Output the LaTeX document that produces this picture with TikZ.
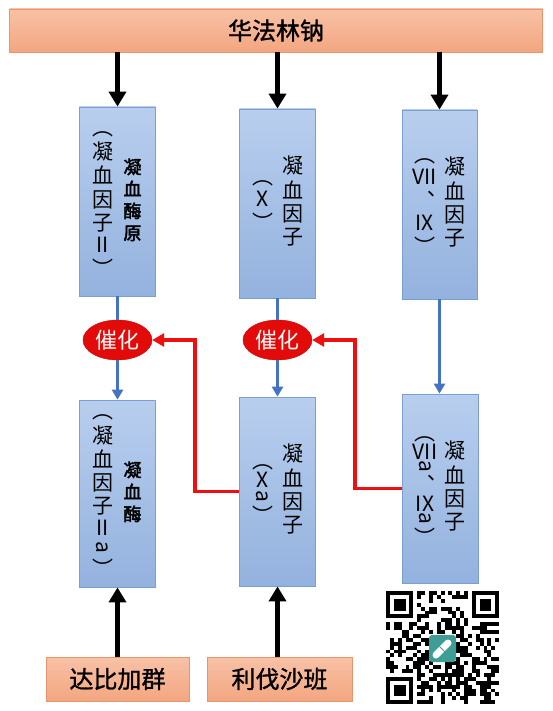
\documentclass[tikz,border=0pt]{standalone}
\usepackage{xcolor}
\definecolor{salmontop}{HTML}{F8C1A6}
\definecolor{salmonbot}{HTML}{F3A680}
\definecolor{salmonedge}{HTML}{E8956C}
\definecolor{steeltop}{HTML}{B8CEEE}
\definecolor{steelbot}{HTML}{93B2DE}
\definecolor{steeledge}{HTML}{7C9DCF}
\definecolor{royal}{HTML}{4472C4}
\definecolor{alarm}{HTML}{EE1010}
\definecolor{catred}{HTML}{E30A0A}
\definecolor{qrteal}{HTML}{3E9E95}
\usepackage{fontspec}
\newfontfamily\cjk{Noto Sans CJK SC}
\newfontfamily\cjkmed{Noto Sans CJK SC}[FakeBold=1.2]
\newfontfamily\cjkheavy{Noto Sans CJK SC}[FakeBold=2.5]
\usepackage{tikz}
\usetikzlibrary{arrows.meta, positioning, shapes.geometric, calc}

\newcommand{\vfont}{\cjk\fontsize{21}{22}\selectfont}
\newcommand{\vcol}[1]{\begin{tabular}{@{}c@{}}#1\end{tabular}}
\newcommand{\vheavy}[1]{{\cjkheavy\fontsize{18}{22}\selectfont\vcol{#1}}}
\newcommand{\vpair}[2]{\makebox[30pt]{\vcol{#1}}\makebox[30pt]{#2}}
\newcommand{\rota}{\rotatebox[origin=c]{-90}{a}}

\begin{document}
\begin{tikzpicture}[x=1pt, y=-1pt,
  drug/.style={draw=salmonedge, line width=0.8pt, top color=salmontop, bottom color=salmonbot, inner sep=0pt,
    font={\cjkmed\fontsize{24}{26}\selectfont}},
  factor/.style={draw=steeledge, line width=0.8pt, top color=steeltop, bottom color=steelbot,
    minimum width=76pt, minimum height=189pt, inner sep=0pt, font=\vfont},
  catal/.style={ellipse, fill=catred, draw=catred!85!black, minimum width=69pt, minimum height=40pt,
    inner sep=0pt, text=white, font={\cjk\fontsize{22}{24}\selectfont}},
  bigarrow/.style={line width=5pt, -{Triangle[length=15pt,width=17pt]}},
  blueline/.style={royal, line width=2.5pt},
  bluearrow/.style={blueline, -{Triangle[length=10pt,width=11pt]}},
  redarrow/.style={alarm, line width=3.2pt, -{Triangle[length=12pt,width=13pt]}}]
  \useasboundingbox[fill=white] (0,0) rectangle (552,711);

  % --- Warfarin ---
  \node[drug, minimum width=533pt, minimum height=43pt] (war) at (276,30.5) {华法林钠};

  % --- Upper factors ---
  \node[factor] (f2) at (117.5,201.5) {\vpair{︵\\凝\\血\\因\\子\\II\\︶}{\vheavy{凝\\血\\酶\\原}}};
  \node[factor] (f10) at (277.5,203.5) {\vpair{︵\\X\\︶}{\vcol{凝\\血\\因\\子}}};
  \node[factor, minimum width=75pt] (f79) at (439.5,204.5) {\vpair{︵\\VII\\︑\\IX\\︶}{\vcol{凝\\血\\因\\子}}};

  % --- Lower factors ---
  \node[factor, minimum height=187pt] (f2a) at (117.5,493.5) {\vpair{︵\\凝\\血\\因\\子\\II\\[-5pt]\rota\\︶}{\vheavy{凝\\血\\酶}}};
  \node[factor] (f10a) at (277.5,491.5) {\vpair{︵\\[-3pt]X\\[-7pt]\rota\\[-3pt]︶}{\vcol{凝\\血\\因\\子}}};
  \node[factor] (f79a) at (440,488.5) {\vpair{︵\\[-3pt]VII\\[-9pt]\rota\\[-4pt]︑\\[-3pt]IX\\[-9pt]\rota\\[-3pt]︶}{\vcol{凝\\血\\因\\子}}};

  % --- Catalysis ---
  \node[catal] (cat1) at (117.5,340) {催化};
  \node[catal] (cat2) at (277.5,340) {催化};

  % --- Anticoagulants ---
  \node[drug, minimum width=143pt, minimum height=44pt] (dab) at (117.5,679) {达比加群};
  \node[drug, minimum width=145pt, minimum height=44pt] (riv) at (279.5,679) {利伐沙班};

  % --- Arrows ---
  \foreach \f in {f2, f10, f79}
    \draw[bigarrow] (war.south -| \f.north) -- (\f.north);
  \draw[bigarrow] (dab.north -| f2a.south) -- (f2a.south);
  \draw[bigarrow] (riv.north -| f10a.south) -- (f10a.south);

  \draw[blueline] (f2.south) -- (cat1.north);
  \draw[bluearrow] (cat1.south) -- (f2a.north);
  \draw[blueline] (f10.south) -- (cat2.north);
  \draw[bluearrow] (cat2.south) -- (f10a.north);
  \draw[bluearrow] (f79.south) -- (f79.south |- f79a.north);

  \coordinate (redbend1) at (195,340);
  \coordinate (redbend2) at (355,340);
  \draw[redarrow] (f10a.west) -| (redbend1) -- (cat1.east);
  \draw[redarrow] (f79a.west) -| (redbend2) -- (cat2.east);

  % --- QR code ---
  \begin{scope}[shift={(386,591)}]
    \pgfmathsetseed{42}
    \foreach \i in {0,...,28} {
      \foreach \j in {0,...,28} {
        \pgfmathrandominteger{\bit}{0}{1}
        \pgfmathtruncatemacro{\keep}{((\i<8 && \j<8) || (\i>20 && \j<8) || (\i<8 && \j>20) || (\i>10 && \i<18 && \j>10 && \j<18)) ? 0 : \bit}
        \ifnum\keep=1 \fill (\i*3.9,\j*3.9) rectangle ++(3.9,3.9); \fi
      }
    }
    \foreach \cx/\cy in {0/0, 22/0, 0/22} {
      \fill (\cx*3.9,\cy*3.9) rectangle ++(27.3,27.3);
      \fill[white] (\cx*3.9+3.9,\cy*3.9+3.9) rectangle ++(19.5,19.5);
      \fill (\cx*3.9+7.8,\cy*3.9+7.8) rectangle ++(11.7,11.7);
    }
    \fill[qrteal, rounded corners=3pt] (43,44) rectangle ++(27,27);
    \draw[white, line width=7pt, line cap=round] (50,64) -- (62,52);
    \draw[qrteal, line width=0.8pt] (53.5,55.5) -- (58.5,60.5);
  \end{scope}
\end{tikzpicture}
\end{document}
